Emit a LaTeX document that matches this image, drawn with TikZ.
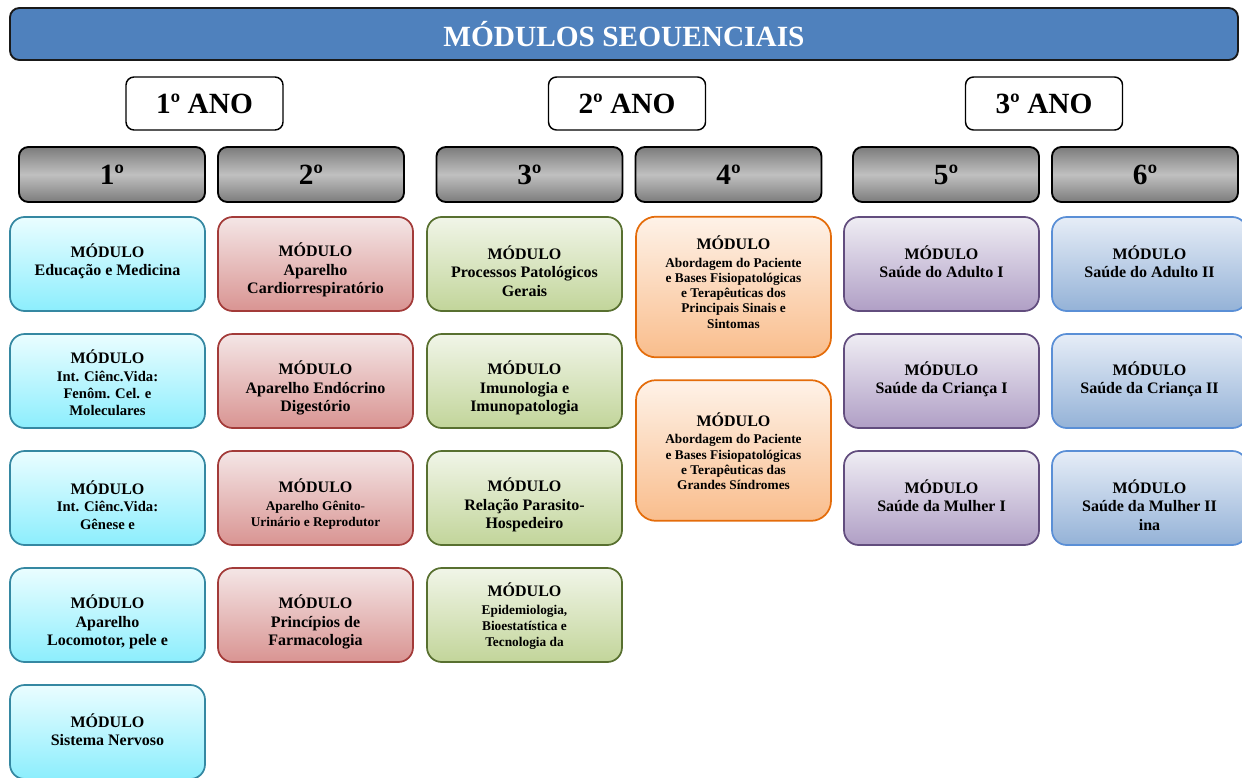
\documentclass[tikz,border=0pt]{standalone}
\usepackage{fontspec}
\setmainfont{Liberation Serif}
\definecolor{titleF}{HTML}{4F81BD}
\definecolor{barDark}{HTML}{7C7C7C}
\definecolor{barLight}{HTML}{C0C0C0}
\definecolor{cyanT}{HTML}{EAFDFF}
\definecolor{cyanD}{HTML}{8CEEFD}
\definecolor{cyanB}{HTML}{3588A2}
\definecolor{redT}{HTML}{F4E6E6}
\definecolor{redD}{HTML}{D99492}
\definecolor{redB}{HTML}{A33B39}
\definecolor{greenT}{HTML}{F1F5E8}
\definecolor{greenD}{HTML}{C2D59A}
\definecolor{greenB}{HTML}{587030}
\definecolor{orangeT}{HTML}{FEF2E8}
\definecolor{orangeD}{HTML}{F9BD8C}
\definecolor{orangeB}{HTML}{E46C0A}
\definecolor{purpleT}{HTML}{EFEDF4}
\definecolor{purpleD}{HTML}{B09FC5}
\definecolor{purpleB}{HTML}{624D7E}
\definecolor{blueT}{HTML}{E6EDF7}
\definecolor{blueD}{HTML}{94B2D7}
\definecolor{blueB}{HTML}{5A8FD6}
\tikzset{
  titlebar/.style={rounded corners=7pt, draw=black!90, line width=1.4pt, fill=titleF,
    minimum width=921pt, minimum height=39pt, inner sep=0pt, text=white,
    font=\bfseries\fontsize{22}{26}\selectfont},
  yearbox/.style={rounded corners=6pt, draw=black, line width=1.1pt, fill=white,
    minimum width=117.75pt, minimum height=39.75pt, inner sep=0pt,
    font=\bfseries\fontsize{22}{26}\selectfont},
  semibar/.style={rounded corners=7pt, draw=black, line width=1.4pt,
    top color=barDark, bottom color=barDark, middle color=barLight,
    minimum width=139.5pt, minimum height=41.25pt, inner sep=0pt,
    font=\bfseries\fontsize{22}{26}\selectfont},
  modbase/.style={rounded corners=11pt, line width=1.3pt,
    minimum width=146.25pt, minimum height=70.5pt, inner sep=0pt},
  tall/.style={minimum height=105.5pt, rounded corners=15pt},
  cyanmod/.style={modbase, draw=cyanB, top color=cyanT, bottom color=cyanD},
  redmod/.style={modbase, draw=redB, top color=redT, bottom color=redD},
  greenmod/.style={modbase, draw=greenB, top color=greenT, bottom color=greenD},
  orangemod/.style={modbase, tall, draw=orangeB, top color=orangeT, bottom color=orangeD},
  purplemod/.style={modbase, draw=purpleB, top color=purpleT, bottom color=purpleD},
  bluemod/.style={modbase, draw=blueB, top color=blueT, bottom color=blueD},
  mtext/.style={align=center, inner sep=0pt, text=black,
    font=\bfseries\fontsize{12}{13.8}\selectfont},
  mtextm/.style={mtext, font=\bfseries\fontsize{11}{13.1}\selectfont},
  mtexts/.style={mtext, font=\bfseries\fontsize{10}{12}\selectfont},
  mtextxs/.style={mtext, font=\bfseries\fontsize{10}{11.4}\selectfont},
}
\newcommand{\mhead}{{\fontsize{12}{13.8}\selectfont MÓDULO}}
\begin{document}
\begin{tikzpicture}[x=0.75pt,y=-0.75pt]
\useasboundingbox (0,0) rectangle (1242,778);
% title
\node[titlebar] (title) at (624,34) {MÓDULOS SEOUENCIAIS};
% years
\node[yearbox] (ano1) at (204.5,103.5) {1º ANO};
\node[yearbox] (ano2) at (627,103.5) {2º ANO};
\node[yearbox] (ano3) at (1044,103.5) {3º ANO};
% semesters
\node[semibar] (s1) at (112,174.5) {1º};
\node[semibar] (s2) at (311,174.5) {2º};
\node[semibar] (s3) at (529.5,174.5) {3º};
\node[semibar] (s4) at (728.5,174.5) {4º};
\node[semibar] (s5) at (946,174.5) {5º};
\node[semibar] (s6) at (1145,174.5) {6º};
% column 1
\node[cyanmod] (m11) at (107.5,264) {};
\node[cyanmod] (m12) at (107.5,381) {};
\node[cyanmod] (m13) at (107.5,498) {};
\node[cyanmod] (m14) at (107.5,615) {};
\node[cyanmod] (m15) at (107.5,732) {};
\node[mtext] (t11) at (107.5,261) {MÓDULO\\Educação e Medicina};
\node[mtextm] (t12) at (107.5,383) {\mhead\\Int. Ciênc.Vida:\\Fenôm. Cel. e\\Moleculares};
\node[mtextm] (t13) at (107.5,505) {\mhead\\Int. Ciênc.Vida:\\Gênese e};
\node[mtext] (t14) at (107.5,622) {MÓDULO\\Aparelho\\Locomotor, pele e};
\node[mtext] (t15) at (107.5,730) {MÓDULO\\Sistema Nervoso};
% column 2
\node[redmod] (m21) at (315.5,264) {};
\node[redmod] (m22) at (315.5,381) {};
\node[redmod] (m23) at (315.5,498) {};
\node[redmod] (m24) at (315.5,615) {};
\node[mtext] (t21) at (315.5,270) {MÓDULO\\Aparelho\\Cardiorrespiratório};
\node[mtext] (t22) at (315.5,388) {MÓDULO\\Aparelho Endócrino\\Digestório};
\node[mtexts] (t23) at (315.5,504) {\mhead\\[1pt]Aparelho Gênito-\\Urinário e Reprodutor};
\node[mtext] (t24) at (315.5,622) {MÓDULO\\Princípios de\\Farmacologia};
% column 3
\node[greenmod] (m31) at (524.5,264) {};
\node[greenmod] (m32) at (524.5,381) {};
\node[greenmod] (m33) at (524.5,498) {};
\node[greenmod] (m34) at (524.5,615) {};
\node[mtext] (t31) at (524.5,271) {MÓDULO\\Processos Patológicos\\Gerais};
\node[mtext] (t32) at (524.5,388) {MÓDULO\\Imunologia e\\Imunopatologia};
\node[mtext] (t33) at (524.5,505) {MÓDULO\\Relação Parasito-\\Hospedeiro};
\node[mtexts] (t34) at (524.5,616) {\mhead\\[1pt]Epidemiologia,\\Bioestatística e\\Tecnologia da};
% column 4
\node[orangemod] (m41) at (733.5,287) {};
\node[orangemod] (m42) at (733.5,450.5) {};
\node[mtextxs] (t41) at (733.5,282) {\mhead\\[2pt]Abordagem do Paciente\\e Bases Fisiopatológicas\\e Terapêuticas dos\\Principais Sinais e\\Sintomas};
\node[mtextxs] (t42) at (733.5,451) {\mhead\\[2pt]Abordagem do Paciente\\e Bases Fisiopatológicas\\e Terapêuticas das\\Grandes Síndromes};
% column 5
\node[purplemod] (m51) at (941.5,264) {};
\node[purplemod] (m52) at (941.5,381) {};
\node[purplemod] (m53) at (941.5,498) {};
\node[mtext] (t51) at (941.5,262) {MÓDULO\\Saúde do Adulto I};
\node[mtext] (t52) at (941.5,379) {MÓDULO\\Saúde da Criança I};
\node[mtext] (t53) at (941.5,496) {MÓDULO\\Saúde da Mulher I};
% column 6
\node[bluemod] (m61) at (1149.5,264) {};
\node[bluemod] (m62) at (1149.5,381) {};
\node[bluemod] (m63) at (1149.5,498) {};
\node[mtext] (t61) at (1149.5,262) {MÓDULO\\Saúde do Adulto II};
\node[mtext] (t62) at (1149.5,379) {MÓDULO\\Saúde da Criança II};
\node[mtext] (t63) at (1149.5,505) {MÓDULO\\Saúde da Mulher II\\ina};
\end{tikzpicture}
\end{document}
